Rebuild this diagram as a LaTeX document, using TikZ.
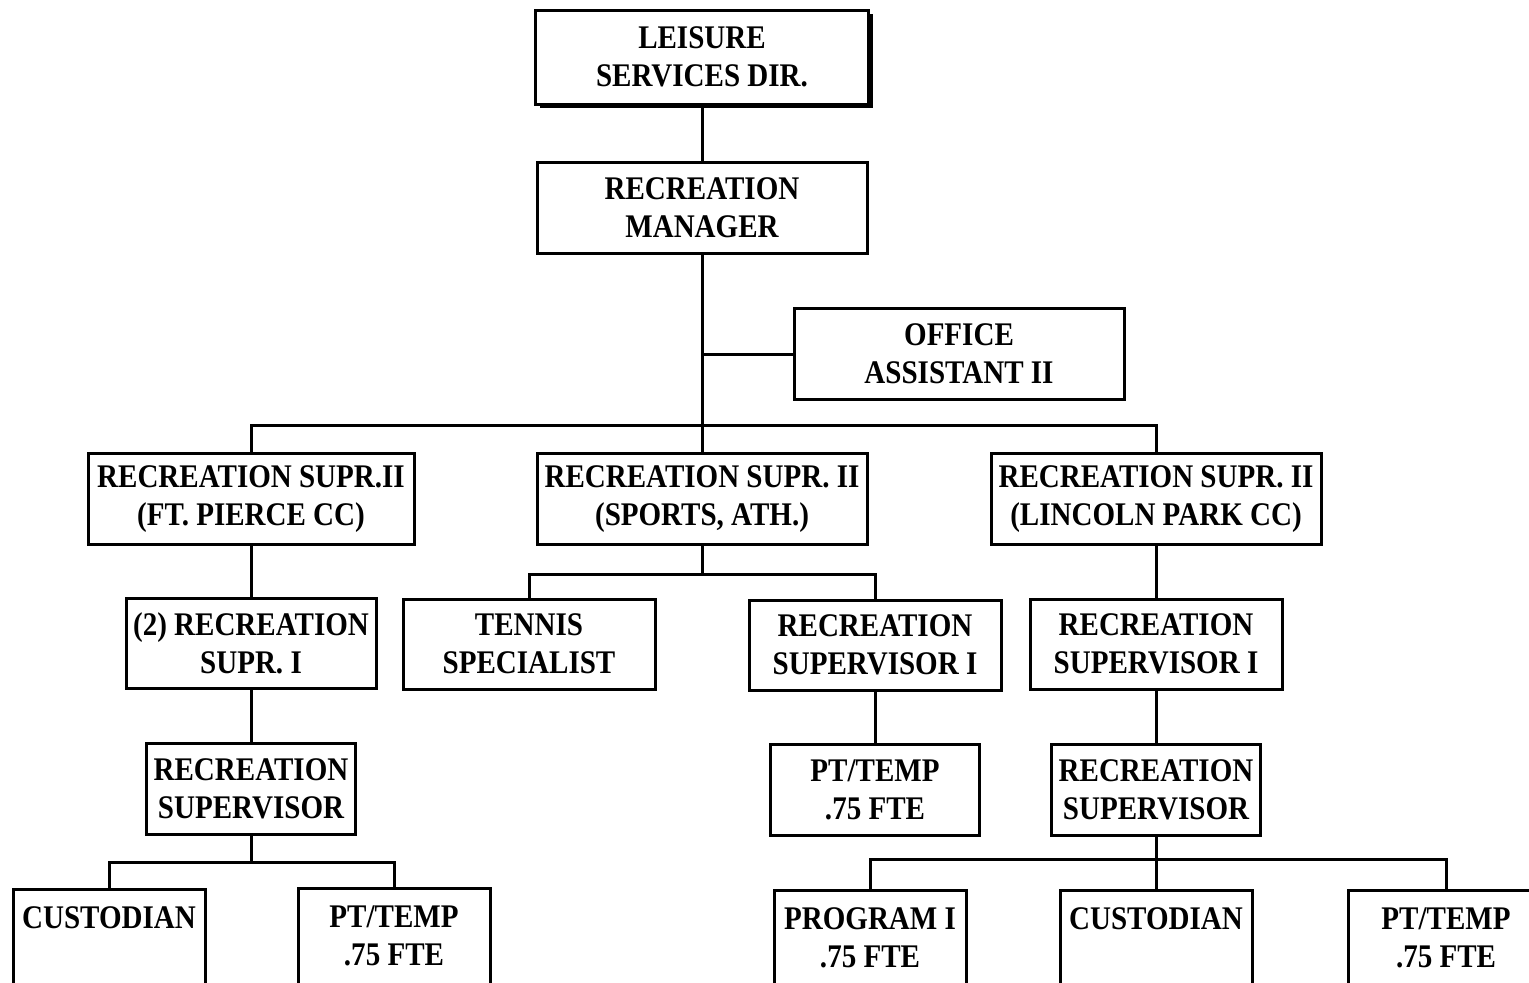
\documentclass[tikz,border=0pt]{standalone}
\usepackage{fontspec}
\setmainfont{Liberation Serif}[FakeStretch=0.88]
\usepackage{tikz}
\usetikzlibrary{positioning,shadows}

\begin{document}
\begin{tikzpicture}[%
    on grid,
    line width=1.5pt,
    orgbox/.style={draw, inner sep=0pt, align=center,
        font=\bfseries\fontsize{16.5}{19}\selectfont},
    widebox/.style={orgbox, minimum width=165pt, minimum height=45.5pt},
    midbox/.style={orgbox, minimum width=126pt, minimum height=45pt},
    narrowbox/.style={orgbox, minimum width=104.5pt, minimum height=45.5pt},
    lowbox/.style={orgbox, minimum width=96pt, minimum height=48pt}
    ]

    \useasboundingbox (0,0) rectangle (764.5pt,-491pt);
    \clip (0,0) rectangle (764.5pt,-491pt);

    % top of the chart
    \node[widebox, minimum width=166.5pt, minimum height=47pt, fill=white,
        drop shadow={shadow xshift=2pt, shadow yshift=-2pt, fill=black, opacity=1}]
        (dir) at (351pt,-28.5pt) {LEISURE\\SERVICES DIR.};
    \node[widebox] (mgr) [below=75.5pt of dir] {RECREATION\\MANAGER};
    \node[widebox] (office) [below right=73pt and 128.5pt of mgr] {OFFICE\\ASSISTANT II};

    % supervisors II
    \node[widebox] (sports) [below=145.5pt of mgr] {RECREATION SUPR. II\\(SPORTS, ATH.)};
    \node[widebox, minimum width=163pt] (ftpierce) [left=225.5pt of sports] {RECREATION SUPR.II\\(FT. PIERCE CC)};
    \node[widebox] (lincoln) [right=227pt of sports] {RECREATION SUPR. II\\(LINCOLN PARK CC)};

    % supervisors I
    \node[midbox, minimum width=125pt] (supra) [below=72pt of ftpierce] {(2) RECREATION\\SUPR. I};
    \node[midbox] (tennis) [below left=72.5pt and 86.5pt of sports] {TENNIS\\SPECIALIST};
    \node[midbox] (supmid) [below right=73pt and 86.5pt of sports] {RECREATION\\SUPERVISOR I};
    \node[midbox] (suprt) [below=72.5pt of lincoln] {RECREATION\\SUPERVISOR I};

    \node[narrowbox] (supvl) [below=73pt of supra] {RECREATION\\SUPERVISOR};
    \node[narrowbox] (ptmid) [below=72.5pt of supmid] {PT/TEMP\\.75 FTE};
    \node[narrowbox] (supvr) [below=73pt of suprt] {RECREATION\\SUPERVISOR};

    % bottom row
    \node[lowbox] (custl) [below left=74pt and 71pt of supvl] {CUSTODIAN\\\mbox{}};
    \node[lowbox] (ptl) [below right=73.5pt and 71.5pt of supvl] {PT/TEMP\\.75 FTE};
    \node[lowbox] (prog) [below left=74pt and 143pt of supvr] {PROGRAM I\\.75 FTE};
    \node[lowbox] (custr) [below=74pt of supvr] {CUSTODIAN\\\mbox{}};
    \node[lowbox, minimum width=98pt] (ptr) [below right=74pt and 145pt of supvr] {PT/TEMP\\.75 FTE};

    % connectors
    \draw (dir) -- (mgr);
    \draw (mgr) -- (sports);
    \draw (mgr.south |- office.west) -- (office.west);
    \draw (ftpierce.north) -- ++(0,13.5pt) -| (lincoln.north);

    \draw (sports.south) -- ++(0,-14pt) coordinate (sportsbar);
    \draw (tennis.north) |- (sportsbar) -| (supmid.north);

    \draw (ftpierce) -- (supra);
    \draw (supra) -- (supvl);
    \draw (supmid) -- (ptmid);
    \draw (lincoln) -- (suprt);
    \draw (suprt) -- (supvr);

    \draw (supvl.south) -- ++(0,-13pt) coordinate (leftbar);
    \draw (custl.north) |- (leftbar) -| (ptl.north);
    \draw (supvr) -- (custr);
    \draw (prog.north) -- ++(0,14.5pt) -| (ptr.north);

\end{tikzpicture}
\end{document}
